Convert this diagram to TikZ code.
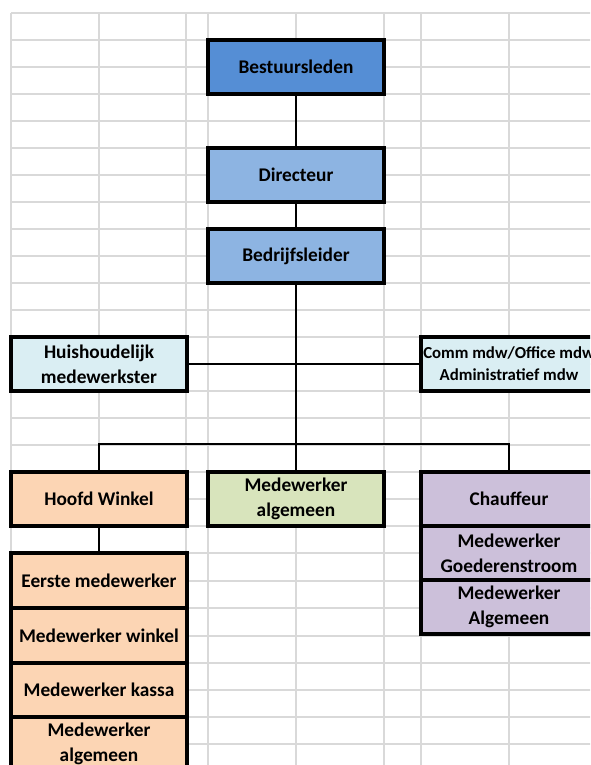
\documentclass[tikz,border=0pt]{standalone}
\usepackage{fontspec}
\setmainfont{Carlito}
\definecolor{gridgray}{HTML}{D9D9D9}
\definecolor{cBest}{HTML}{558ED5}
\definecolor{cDir}{HTML}{8DB4E2}
\definecolor{cLb}{HTML}{DAEEF3}
\definecolor{cPeach}{HTML}{FCD5B4}
\definecolor{cGreen}{HTML}{D8E4BC}
\definecolor{cPurple}{HTML}{CCC0DA}
\begin{document}
\begin{tikzpicture}[x=0.75pt,y=-0.75pt,
  gridline/.style={draw=gridgray, line width=1.2pt},
  box/.style={draw=black, line width=2.3pt, anchor=north west, inner sep=0pt, outer sep=0pt,
    align=center, text=black, font=\bfseries\fontsize{14.5}{18.5}\selectfont,
    minimum width=132pt, minimum height=40.5pt},
  conn/.style={draw=black, line width=1.6pt}]
\useasboundingbox (0,0) rectangle (590,765);
\fill[white] (0,0) rectangle (590,765);
\clip (0,0) rectangle (590,765);
% grid
\foreach \x in {11,99,186,208,296,384,421,509}
  \draw[gridline] (\x,13) -- (\x,766);
\foreach \y in {13,40,67,94,121,148,175,202,229,256,283,310,337,364,391,418,445,472,499,526,553,581,608,636,663,690,717,744}
  \draw[gridline] (11,\y) -- (591,\y);
% top chain
\node[box, fill=cBest] (best) at (208,40) {Bestuursleden};
\node[box, fill=cDir] (dir) at (208,148) {Directeur};
\node[box, fill=cDir] (bedr) at (208,229) {Bedrijfsleider};
% middle
\node[box, fill=cLb] (huis) at (11,337) {Huishoudelijk\\medewerkster};
\node[box, fill=cLb, font=\bfseries\fontsize{12.6}{16.5}\selectfont] (comm) at (421,337) {Comm mdw/Office mdw\\Administratief mdw};
% bottom row
\node[box, fill=cPeach] (hoofd) at (11,472) {Hoofd Winkel};
\node[box, fill=cGreen] (mwa) at (208,472) {Medewerker\\algemeen};
\node[box, fill=cPurple] (chauf) at (421,472) {Chauffeur};
\node[box, fill=cPurple] (goed) at (421,526) {Medewerker\\Goederenstroom};
\node[box, fill=cPurple] (alg2) at (421,580) {Medewerker\\Algemeen};
% left stack
\node[box, fill=cPeach, minimum height=41.25pt] (eerste) at (11,553) {Eerste medewerker};
\node[box, fill=cPeach, minimum height=41.25pt] (winkel) at (11,608) {Medewerker winkel};
\node[box, fill=cPeach] (kassa) at (11,663) {Medewerker kassa};
\node[box, fill=cPeach] (alg1) at (11,717) {Medewerker\\algemeen};
% connectors
\coordinate (j) at (296,444);
\draw[conn] (best.south) -- (dir.north);
\draw[conn] (dir.south) -- (bedr.north);
\draw[conn] (bedr.south) -- (mwa.north);
\draw[conn] (huis.east) -- (comm.west);
\draw[conn] (hoofd.north) |- (j) -| (chauf.north);
\draw[conn] (hoofd.south) -- (eerste.north);
\end{tikzpicture}
\end{document}
